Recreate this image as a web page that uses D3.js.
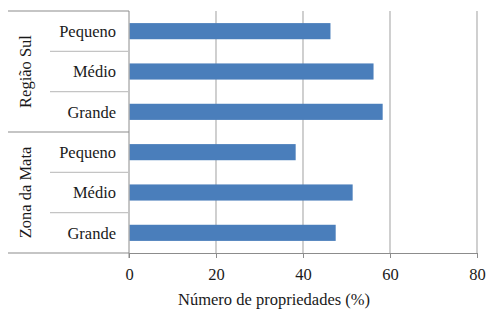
<!DOCTYPE html>
<html>
<head>
<meta charset="utf-8">
<style>
  body { margin: 0; background: #fff; }
</style>
</head>
<body>
<script src="https://d3js.org/d3.v7.min.js"></script>
<svg width="487" height="312" font-family="'Liberation Serif', 'DejaVu Serif', serif"></svg>
<script>
// data
var groups = ["Região Sul", "Zona da Mata"];
var sizes = ["Pequeno", "Médio", "Grande"];
var regiaoSul = [46.2, 56.1, 58.2];
var zonaDaMata = [38.2, 51.3, 47.4];
var xTicks = [0, 20, 40, 60, 80];
var xTitle = "Número de propriedades (%)";

var FONT = "'Liberation Serif', 'DejaVu Serif', serif";

var rows = [];
groups.forEach(function(g, gi) {
  var vals = gi === 0 ? regiaoSul : zonaDaMata;
  sizes.forEach(function(s, si) {
    rows.push({group: g, size: s, value: vals[si], key: g + "|" + s});
  });
});

var svg = d3.select("svg"),
    margin = {top: 11, right: 10, bottom: 59, left: 129},
    width = 477 - margin.left,
    height = 253 - margin.top;

var x = d3.scaleLinear().domain([0, 80]).range([0, width]);
var y = d3.scaleBand().domain(rows.map(function(d) { return d.key; })).range([0, height]).paddingInner(0.6).paddingOuter(0.3);
var step = y.step();

var g = svg.append("g").attr("transform", "translate(" + margin.left + "," + margin.top + ")");

// gridlines
g.selectAll(".grid").data(xTicks.slice(1)).enter().append("line")
  .attr("x1", function(d) { return x(d); }).attr("x2", function(d) { return x(d); })
  .attr("y1", 0).attr("y2", height)
  .attr("stroke", "#c4c4c4").attr("stroke-width", 1.6);

// bars
g.selectAll(".bar").data(rows).enter().append("rect")
  .attr("x", x(0) + 0.5)
  .attr("y", function(d) { return y(d.key); })
  .attr("width", function(d) { return x(d.value) - x(0); })
  .attr("height", y.bandwidth())
  .attr("fill", "#4a7ebb");

// x axis
var xa = g.append("g").attr("transform", "translate(0," + height + ")")
  .call(d3.axisBottom(x).tickValues(xTicks).tickSize(5).tickPadding(10));
xa.attr("font-family", FONT).attr("font-size", 16.5);
xa.select(".domain").attr("stroke", "#8c8c8c");
xa.selectAll(".tick line").attr("stroke", "#8c8c8c");
xa.selectAll("text").attr("fill", "#1a1a1a");

// left axis line
g.append("line").attr("x1", 0).attr("x2", 0).attr("y1", 0).attr("y2", height + 5)
  .attr("stroke", "#8c8c8c");

// row separators
var rowSep = rows.slice(1).map(function(d, i) { return (i + 1) * step; });
g.selectAll(".sep").data(rowSep).enter().append("line")
  .attr("x1", function(d, i) { return (i + 1) % 3 === 0 ? -121 : -79; })
  .attr("x2", 0)
  .attr("y1", function(d) { return d; }).attr("y2", function(d) { return d; })
  .attr("stroke", function(d, i) { return (i + 1) % 3 === 0 ? "#8c8c8c" : "#c4c4c4"; })
  .attr("stroke-width", 1.2);
// outer lines
[0, height].forEach(function(yy) {
  g.append("line").attr("x1", -121).attr("x2", 0).attr("y1", yy).attr("y2", yy)
    .attr("stroke", "#8c8c8c").attr("stroke-width", 1.2);
});

// size labels
g.selectAll(".lab").data(rows).enter().append("text")
  .attr("x", -13)
  .attr("y", function(d) { return y(d.key) + y.bandwidth() / 2; })
  .attr("dy", "0.35em")
  .attr("text-anchor", "end")
  .attr("font-size", 16.5)
  .attr("fill", "#1a1a1a")
  .text(function(d) { return d.size; });

// group labels
groups.forEach(function(gr, gi) {
  var cy = (gi * 3 + 1.5) * step;
  g.append("text")
    .attr("transform", "translate(" + (-104) + "," + cy + ") rotate(-90)")
    .attr("dy", "0.35em")
    .attr("text-anchor", "middle")
    .attr("font-size", 16.5)
    .attr("fill", "#1a1a1a")
    .text(gr);
});

// axis title
svg.append("text")
  .attr("x", 274).attr("y", 305)
  .attr("text-anchor", "middle")
  .attr("font-size", 16.5)
  .attr("fill", "#1a1a1a")
  .text(xTitle);
</script>
</body>
</html>
